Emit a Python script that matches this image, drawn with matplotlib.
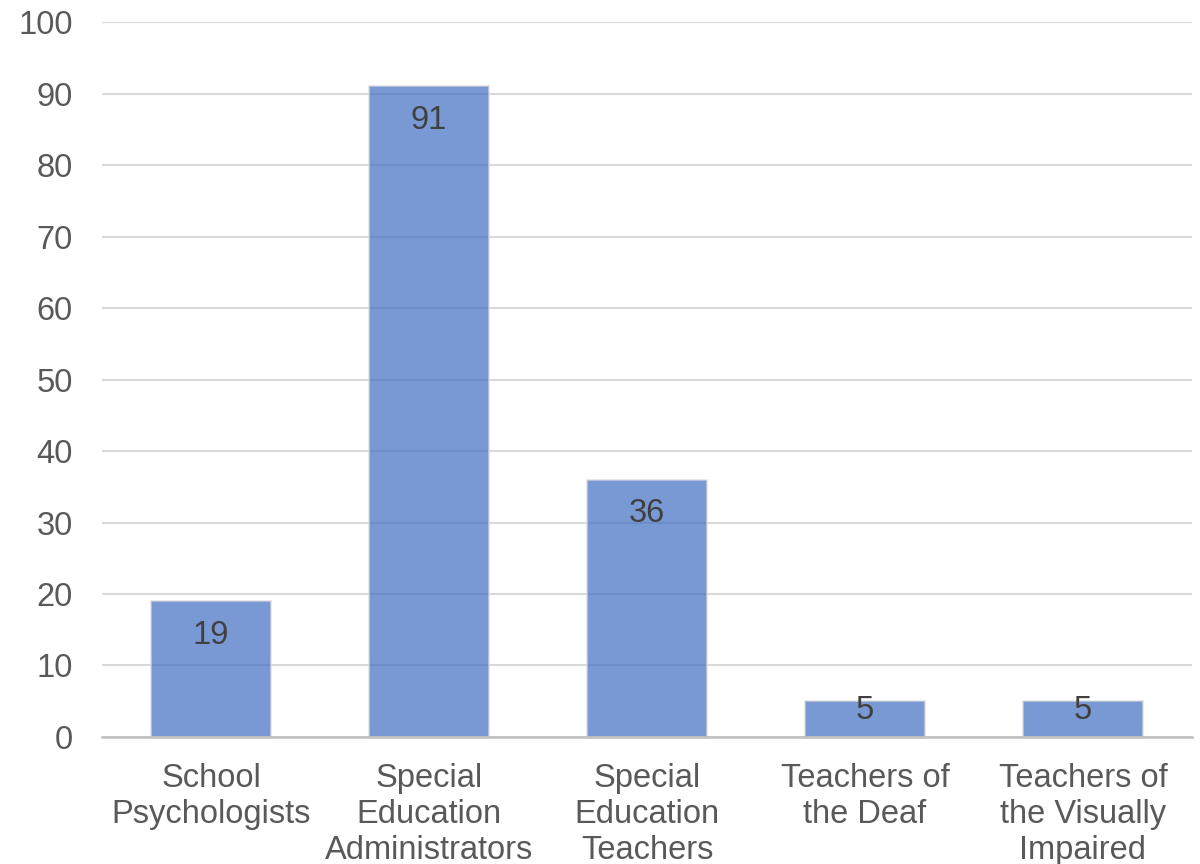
import matplotlib
matplotlib.use("Agg")
import matplotlib.pyplot as plt

categories = ["School\nPsychologists", "Special\nEducation\nAdministrators",
              "Special\nEducation\nTeachers", "Teachers of\nthe Deaf",
              "Teachers of\nthe Visually\nImpaired"]
counts = [19, 91, 36, 5, 5]
yticks = [0, 10, 20, 30, 40, 50, 60, 70, 80, 90, 100]

plt.rcParams['font.family'] = ['Liberation Sans', 'DejaVu Sans']

fig = plt.figure(figsize=(12, 8.64), dpi=100)
ax = fig.add_axes([0.085, 0.147, 0.9083, 0.8275])

x = list(range(len(categories)))
ax.bar(x, counts, width=0.55, color='#4472c4', alpha=0.72,
       edgecolor='#d9d9d9', linewidth=1.2, zorder=3)

# data labels inside the top of each bar
for xi, v in zip(x, counts):
    ax.text(xi, max(v - 4.75, 3.7), str(v), ha='center', va='center',
            fontsize=23.5, color='#404040', zorder=4)

ax.set_xlim(-0.5, len(categories) - 0.5)
ax.set_ylim(0, 100)
ax.set_yticks(yticks)
ax.set_xticks(x)
ax.set_xticklabels(categories, linespacing=1.19)
ax.tick_params(axis='y', length=0, pad=21, labelsize=23.5, labelcolor='#595959')
ax.tick_params(axis='x', length=0, pad=19, labelsize=23.5, labelcolor='#595959')
ax.grid(axis='y', color='#d9d9d9', linewidth=1.5, zorder=0)
ax.set_axisbelow(True)
for s in ['top', 'right', 'left']:
    ax.spines[s].set_visible(False)
ax.spines['bottom'].set_color('#bfbfbf')
ax.spines['bottom'].set_linewidth(1.8)
ax.spines['bottom'].set_zorder(5)

fig.savefig("out.png", dpi=100)
